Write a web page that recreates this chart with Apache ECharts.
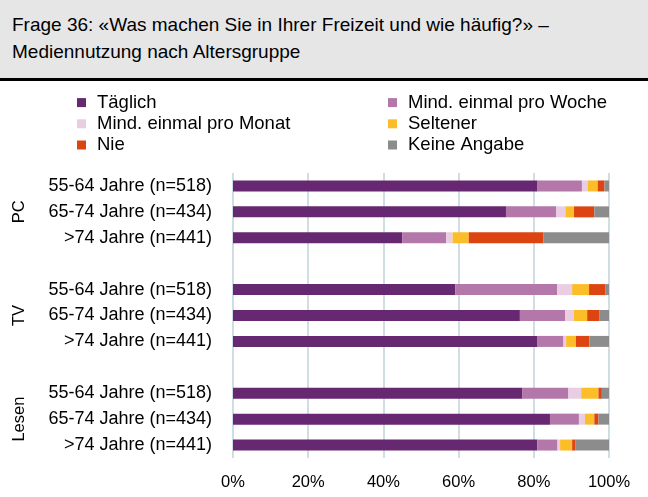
<!DOCTYPE html>
<html>
<head>
<meta charset="utf-8">
<script src="https://cdn.jsdelivr.net/npm/echarts@6/dist/echarts.min.js"></script>
<style>
  html, body { margin: 0; padding: 0; background: #fff; }
  #head { position: absolute; left: 0; top: 0; width: 648px; height: 81px; background: #e6e6e6;
          border-bottom: 3px solid #000; font-family: "Liberation Sans", Arial, sans-serif;
          font-size: 19px; line-height: 27px; color: #000; box-sizing: border-box; padding: 11px 0 0 12px; }
  #chart { position: absolute; left: 0; top: 0; width: 648px; height: 497px; }
</style>
</head>
<body>
<div id="head">Frage 36: «Was machen Sie in Ihrer Freizeit und wie häufig?» –<br>Mediennutzung nach Altersgruppe</div>
<div id="chart"></div>
<script>
// Kategorien (leere Einträge = Abstand zwischen Gruppen)
var categories = ['55-64 Jahre (n=518)', '65-74 Jahre (n=434)', '>74 Jahre (n=441)', '',
                  '55-64 Jahre (n=518)', '65-74 Jahre (n=434)', '>74 Jahre (n=441)', '',
                  '55-64 Jahre (n=518)', '65-74 Jahre (n=434)', '>74 Jahre (n=441)'];
var groups = ['PC', 'TV', 'Lesen'];
var seriesNames = ['Täglich', 'Mind. einmal pro Woche', 'Mind. einmal pro Monat', 'Seltener', 'Nie', 'Keine Angabe'];
var colors = ['#662871', '#b377aa', '#e8cde3', '#fbbd28', '#dc4412', '#8c8c8c'];

// Werte in % (PC, TV, Lesen)
var taeglich = [81.0, 72.6, 45.0, '-', 59.1, 76.3, 81.0, '-', 77.0, 84.3, 80.9];
var woche    = [11.8, 13.3, 11.7, '-', 27.1, 12.0, 6.9,  '-', 12.2, 7.7,  5.4];
var monat    = [1.5,  2.5,  1.7,  '-', 4.0,  2.3,  0.7,  '-', 3.4,  1.6,  0.7];
var seltener = [2.7,  2.3,  4.3,  '-', 4.5,  3.6,  2.6,  '-', 4.6,  2.5,  3.2];
var nie      = [1.8,  5.4,  19.9, '-', 4.4,  3.3,  3.6,  '-', 0.9,  1.1,  0.8];
var keine    = [1.2,  3.9,  17.4, '-', 0.9,  2.5,  5.2,  '-', 1.9,  2.8,  9.0];
var values = [taeglich, woche, monat, seltener, nie, keine];

var font = '"Liberation Sans", Arial, sans-serif';
var chart = echarts.init(document.getElementById('chart'));

var series = [];
for (var i = 0; i < seriesNames.length; i++) {
    series.push({
        name: seriesNames[i],
        type: 'bar',
        stack: 'total',
        barWidth: 11,
        data: values[i],
        itemStyle: { color: colors[i] },
        silent: true
    });
}

// Legende in zwei Spalten
function legendCol(left, names) {
    return {
        data: names,
        orient: 'vertical',
        left: left,
        top: 92,
        padding: 0,
        itemWidth: 9,
        itemHeight: 9,
        itemGap: 0,
        icon: 'rect',
        selectedMode: false,
        textStyle: { fontFamily: font, fontSize: 18.5, lineHeight: 21.2, color: '#000', padding: [0, 0, 0, 6] }
    };
}

var option = {
    animation: false,
    color: colors,
    legend: [
        legendCol(77, [seriesNames[0], seriesNames[2], seriesNames[4]]),
        legendCol(388, [seriesNames[1], seriesNames[3], seriesNames[5]])
    ],
    grid: { left: 233, right: 39, top: 173, bottom: 39 },
    xAxis: {
        type: 'value',
        min: 0,
        max: 100,
        interval: 20,
        axisLabel: { formatter: '{value}%', fontFamily: font, fontSize: 16.5, color: '#000', margin: 16 },
        axisLine: { show: false },
        axisTick: { show: false },
        splitLine: { lineStyle: { color: '#cfdde4', width: 2 } }
    },
    yAxis: {
        type: 'category',
        inverse: true,
        data: categories,
        axisLine: { show: false },
        axisTick: { show: false },
        axisLabel: { fontFamily: font, fontSize: 18, color: '#000', margin: 21 }
    },
    series: series
};
chart.setOption(option);

// Gruppenbeschriftungen (PC, TV, Lesen) neben jeder Gruppe
var groupPos = [1, 5, 8.5];
var gfx = [];
for (var g = 0; g < groups.length; g++) {
    var y = chart.convertToPixel({ yAxisIndex: 0 }, groupPos[g]);
    gfx.push({
        type: 'text',
        x: 19,
        y: y,
        rotation: Math.PI / 2,
        style: { text: groups[g], font: '16.5px ' + font, fill: '#000', align: 'center', verticalAlign: 'middle' }
    });
}
chart.setOption({ graphic: gfx });
</script>
</body>
</html>
